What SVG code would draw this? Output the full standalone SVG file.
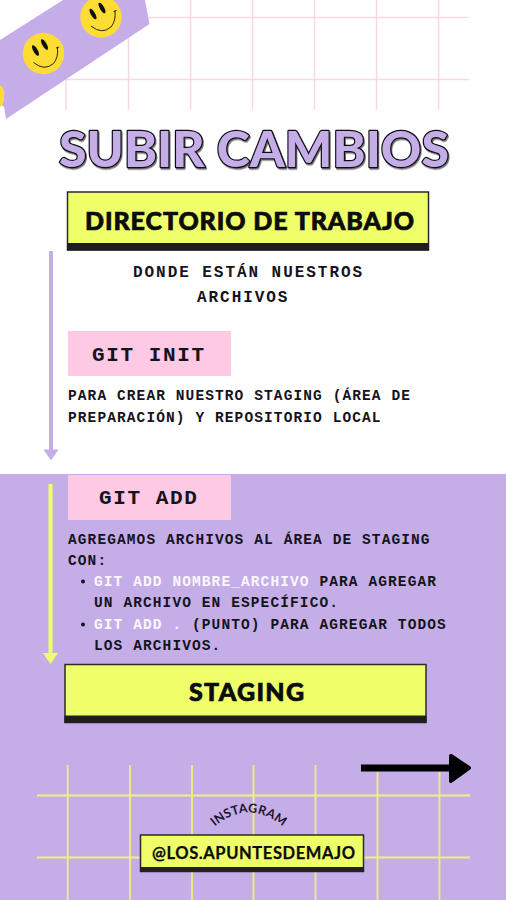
<svg xmlns="http://www.w3.org/2000/svg" width="506" height="900" viewBox="0 0 506 900">
<style>
.pg{stroke:#fbd5e8;stroke-width:1.5;fill:none}
.yg{stroke:#f2ef7c;stroke-width:1.8;fill:none}
.hd{font-family:Lato,"Liberation Sans",sans-serif;font-weight:900;fill:#0c0c0c;stroke:#0c0c0c;stroke-width:0.7px}
.mono{font-family:"Liberation Mono","DejaVu Sans Mono",monospace;font-size:14.5px;letter-spacing:1.1px;fill:#15131c;font-weight:700}
.mid{font-size:16px;letter-spacing:1.95px}
.cmd{font-family:"Liberation Mono","DejaVu Sans Mono",monospace;font-size:21px;letter-spacing:1.6px;fill:#15131c;font-weight:700}
.w{fill:#fbf7ff}
.yb{fill:#eeff6a;stroke:#2a2a2a;stroke-width:1.5}
</style>
<defs>
<filter id="sh" x="-5%" y="-10%" width="110%" height="125%"><feDropShadow dx="1" dy="1.5" stdDeviation="0.6" flood-color="#000" flood-opacity="0.55"/></filter>
<g id="smiley">
<circle r="20.7" fill="#fddc33"/>
<ellipse cx="-8" cy="-3" rx="2.200" ry="6" transform="rotate(-30 -8 -3)" fill="#111"/>
<ellipse cx="1" cy="-9" rx="2.200" ry="6" transform="rotate(-30 1 -9)" fill="#111"/>
<path d="M-10 9Q1 18 10 10Q15 4 14 -6M12.500 -5.500L15.500 -6.500" fill="none" stroke="#111" stroke-width="0.9"/>
</g>
</defs>
<rect id="background" width="506" height="900" fill="#fff"/>
<rect id="band" y="474" width="506" height="426" fill="#c5aee8"/>
<g id="pink-grid" class="pg">
<path d="M66 0V110M128.500 0V110M190.500 0V110M252.500 0V110M314.500 0V110M376.500 0V110M438.500 0V110M37 17.500H469M37 79.500H469"/>
</g>
<g id="tape">
<path d="M0 40L63 0H145L149.500 24L6 119L4 107L0 104Z" fill="#c5aee8"/>
<use href="#smiley" x="101" y="17"/>
<use href="#smiley" x="43.500" y="53.500"/>
<path d="M0 85A12 12 0 0 1 4 97A12 12 0 0 1 0 107Z" fill="#fddc33"/>
</g>
<g id="title">
<text x="59" y="166.500" textLength="390" lengthAdjust="spacing" filter="url(#sh)" font-family="Lato,'Liberation Sans',sans-serif" font-weight="900" font-size="50" fill="#c5aee8" stroke="#0d0d14" stroke-width="2.400" stroke-linejoin="round" paint-order="stroke">SUBIR CAMBIOS</text>
</g>
<g id="connectors">
<path d="M51 251V450" stroke="#c5aee8" stroke-width="4" fill="none"/>
<path d="M43.500 449.500H58.500L51 460.500Z" fill="#c5aee8"/>
<path d="M50.500 484V655" stroke="#eeff6a" stroke-width="4" fill="none"/>
<path d="M43 653H58L50.500 664Z" fill="#eeff6a"/>
<path d="M361 768H452" stroke="#000" stroke-width="7" fill="none"/>
<path d="M451 756L469 768L451 781Z" fill="#000" stroke="#000" stroke-width="4" stroke-linejoin="round"/>
</g>
<g id="directorio">
<rect class="yb" x="67.500" y="192" width="361" height="58"/>
<rect x="67" y="243" width="362" height="7.500" fill="#1e1e1e"/>
<text class="hd" x="85" y="229.500" font-size="25" textLength="329" lengthAdjust="spacing">DIRECTORIO DE TRABAJO</text>
</g>
<g id="directorio-text">
<text class="mono mid" x="133" y="277">DONDE ESTÁN NUESTROS</text>
<text class="mono mid" x="197" y="302">ARCHIVOS</text>
</g>
<g id="git-init">
<rect x="68" y="331" width="163" height="45" fill="#fdc9e3"/>
<text class="cmd" x="92" y="361">GIT INIT</text>
</g>
<g id="git-init-text">
<text class="mono" x="68" y="400">PARA CREAR NUESTRO STAGING (ÁREA DE</text>
<text class="mono" x="68" y="421.500">PREPARACIÓN) Y REPOSITORIO LOCAL</text>
</g>
<g id="git-add">
<rect x="68" y="475" width="163" height="45" fill="#fdc9e3"/>
<text class="cmd" x="99" y="504">GIT ADD</text>
</g>
<g id="git-add-text">
<text class="mono" x="68" y="544">AGREGAMOS ARCHIVOS AL ÁREA DE STAGING</text>
<text class="mono" x="68" y="565">CON:</text>
<circle cx="83" cy="581.500" r="2" fill="#15131c"/>
<text class="mono" x="94" y="586"><tspan class="w">GIT ADD NOMBRE_ARCHIVO</tspan> PARA AGREGAR</text>
<text class="mono" x="94" y="607">UN ARCHIVO EN ESPECÍFICO.</text>
<circle cx="83" cy="624.500" r="2" fill="#15131c"/>
<text class="mono" x="94" y="629"><tspan class="w">GIT ADD .</tspan> (PUNTO) PARA AGREGAR TODOS</text>
<text class="mono" x="94" y="650">LOS ARCHIVOS.</text>
</g>
<g id="staging">
<rect class="yb" x="65" y="664.500" width="361" height="58"/>
<rect x="64.500" y="715.500" width="362" height="7.500" fill="#1e1e1e"/>
<text class="hd" x="189" y="701" font-size="25" textLength="115" lengthAdjust="spacing">STAGING</text>
</g>
<g id="yellow-grid" class="yg">
<path d="M67.700 765V900M130 765V900M192 765V900M253.500 765V900M315.500 765V900M377.500 772V900M439.500 772V900M37 795.500H470M37 857.500H470"/>
</g>
<g id="instagram">
<path id="arc" d="M212 829Q248 796 286 829" fill="none"/>
<text font-family="Lato,'Liberation Sans',sans-serif" font-size="12.500" font-weight="700" fill="#1a1530" letter-spacing="0.3"><textPath href="#arc" startOffset="50%" text-anchor="middle">INSTAGRAM</textPath></text>
</g>
<g id="handle">
<rect class="yb" x="140.500" y="835" width="223" height="36.500"/>
<rect x="140" y="867" width="224" height="5" fill="#232323"/>
<text x="152" y="859" font-family="Lato,'Liberation Sans',sans-serif" font-weight="700" font-size="16.500" fill="#0c0c0c" stroke="#0c0c0c" stroke-width="0.25" textLength="203" lengthAdjust="spacing">@LOS.APUNTESDEMAJO</text>
</g>
</svg>
